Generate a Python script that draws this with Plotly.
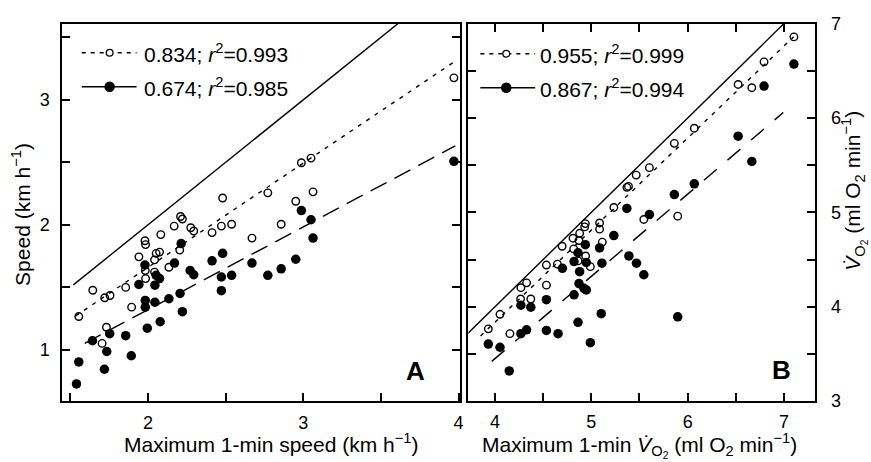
import plotly.graph_objects as go

# ---------------- data: panel A (speed, km/h) ----------------
a_open_x = [1.555, 1.645, 1.722, 1.756, 1.733, 1.705, 1.857, 1.895, 1.942, 1.981, 1.985, 1.983, 1.985,
            2.043, 2.053, 2.075, 2.083, 2.043, 2.135, 2.169, 2.210, 2.222, 2.205, 2.276, 2.295, 2.413,
            2.481, 2.473, 2.539, 2.670, 2.772, 2.858, 2.952, 2.988, 3.050, 3.063, 3.970]
a_open_y = [1.267, 1.477, 1.417, 1.435, 1.181, 1.052, 1.500, 1.342, 1.744, 1.873, 1.842, 1.635, 1.570,
            1.720, 1.772, 1.782, 1.922, 1.622, 1.661, 1.990, 2.067, 2.047, 1.798, 1.977, 1.951, 1.938,
            2.215, 1.990, 2.005, 1.894, 2.256, 2.005, 2.189, 2.497, 2.534, 2.264, 3.176]
a_fill_x = [1.540, 1.555, 1.643, 1.754, 1.735, 1.720, 1.857, 1.893, 1.942, 1.981, 1.983, 1.983, 1.996,
            2.045, 2.053, 2.075, 2.045, 2.079, 2.135, 2.171, 2.207, 2.214, 2.222, 2.272, 2.295, 2.413,
            2.481, 2.473, 2.473, 2.539, 2.670, 2.772, 2.858, 2.952, 2.988, 3.050, 3.063, 3.970]
a_fill_y = [0.728, 0.904, 1.073, 1.130, 0.987, 0.845, 1.114, 0.953, 1.523, 1.679, 1.396, 1.342, 1.174,
            1.518, 1.596, 1.570, 1.381, 1.225, 1.409, 1.694, 1.451, 1.850, 1.306, 1.635, 1.601, 1.712,
            1.772, 1.583, 1.474, 1.596, 1.694, 1.596, 1.648, 1.725, 2.114, 2.041, 1.894, 2.508]
a_fit_open_x = [1.535, 3.99]
a_fit_open_y = [1.272, 3.319]
a_fit_fill_x = [1.593, 3.979]
a_fit_fill_y = [1.052, 2.632]
a_identity = [1.52, 3.7]
a_legend = ["0.834; <i>r</i><sup>2</sup>=0.993", "0.674; <i>r</i><sup>2</sup>=0.985"]

# ---------------- data: panel B (VO2, ml O2/min) ----------------
b_open_x = [3.931, 4.052, 4.155, 4.269, 4.328, 4.266, 4.372, 4.534, 4.534, 4.648, 4.697, 4.810, 4.817,
            4.872, 4.879, 4.931, 4.938, 4.941, 4.862, 4.990, 5.086, 5.086, 5.114, 5.234, 5.369, 5.386,
            5.466, 5.603, 5.545, 5.862, 5.897, 6.069, 6.524, 6.666, 6.793, 7.103]
b_open_y = [3.766, 3.920, 3.715, 4.202, 4.253, 4.082, 4.082, 4.442, 4.229, 4.452, 4.641, 4.726, 4.613,
            4.702, 4.778, 4.846, 4.881, 4.538, 4.486, 4.425, 4.888, 4.822, 4.685, 5.052, 5.265, 5.275,
            5.395, 5.474, 4.925, 5.731, 4.960, 5.892, 6.355, 6.321, 6.595, 6.859]
b_fill_x = [3.931, 4.052, 4.148, 4.269, 4.269, 4.328, 4.372, 4.534, 4.534, 4.655, 4.700, 4.821, 4.821,
            4.862, 4.862, 4.879, 4.872, 4.924, 4.948, 4.938, 4.948, 4.990, 5.086, 5.103, 5.110, 5.234,
            5.369, 5.390, 5.469, 5.545, 5.603, 5.862, 5.897, 6.069, 6.524, 6.666, 6.793, 7.103]
b_fill_y = [3.605, 3.571, 3.320, 3.715, 4.016, 3.756, 3.996, 4.075, 3.749, 3.715, 4.407, 4.126, 4.479,
            4.572, 3.835, 4.372, 4.246, 4.195, 4.178, 4.658, 4.469, 3.619, 4.623, 3.927, 4.462, 4.754,
            5.042, 4.538, 4.462, 4.339, 4.977, 5.189, 3.893, 5.302, 5.807, 5.539, 6.338, 6.571]
b_fit_open_x = [3.85, 7.10]
b_fit_open_y = [3.69, 6.86]
b_fit_fill_x = [3.966, 6.993]
b_fit_fill_y = [3.421, 6.058]
b_identity = [3.6, 7.0]
b_legend = ["0.955; <i>r</i><sup>2</sup>=0.999", "0.867; <i>r</i><sup>2</sup>=0.994"]

# ---------------- axes / ticks ----------------
a_xrange = [1.45, 4.01]
a_yrange = [0.59, 3.61]
a_xticks = [2, 3, 4]
a_xminor = [1.5, 2.5, 3.5]
a_yticks = [1, 2, 3]
a_yminor = [1.5, 2.5, 3.5]
b_xrange = [3.724, 7.327]
b_yrange = [3, 7]
b_xticks = [4, 5, 6, 7]
b_xminor = [4.5, 5.5, 6.5]
b_yticks = [3, 4, 5, 6, 7]
b_yminor = [3.5, 4.5, 5.5, 6.5]

W, H = 871, 462
S_Y = 0.985          # vertical correction for the photographed page
FONT = "Liberation Sans"

def px(x):
    return x / W

def py(y):
    return 1 - (y / S_Y) / H

fig = go.Figure()

open_marker = dict(symbol="circle-open", size=7.5, color="black", line=dict(width=1.4, color="black"))
fill_marker = dict(symbol="circle", size=9.5, color="black")

def add_panel(xa, ya, ident, fox, foy, ffx, ffy, ox, oy, fx, fy, longdash):
    fig.add_trace(go.Scatter(x=ident, y=ident, mode="lines", line=dict(color="black", width=1.4),
                             xaxis=xa, yaxis=ya, showlegend=False))
    fig.add_trace(go.Scatter(x=fox, y=foy, mode="lines",
                             line=dict(color="black", width=1.4, dash="4px,6px"),
                             xaxis=xa, yaxis=ya, showlegend=False))
    fig.add_trace(go.Scatter(x=ffx, y=ffy, mode="lines",
                             line=dict(color="black", width=1.4, dash=longdash),
                             xaxis=xa, yaxis=ya, showlegend=False))
    fig.add_trace(go.Scatter(x=ox, y=oy, mode="markers", marker=open_marker,
                             xaxis=xa, yaxis=ya, showlegend=False))
    fig.add_trace(go.Scatter(x=fx, y=fy, mode="markers", marker=fill_marker,
                             xaxis=xa, yaxis=ya, showlegend=False))

add_panel("x", "y", a_identity, a_fit_open_x, a_fit_open_y, a_fit_fill_x, a_fit_fill_y,
          a_open_x, a_open_y, a_fill_x, a_fill_y, "18px,9px")
add_panel("x2", "y2", b_identity, b_fit_open_x, b_fit_open_y, b_fit_fill_x, b_fit_fill_y,
          b_open_x, b_open_y, b_fill_x, b_fill_y, "17px,14px")

A_DOM_X = [px(62.7), px(461.7)]
B_DOM_X = [px(470), px(818.3)]
DOM_Y = [py(402.7), py(14)]

tickfont = dict(family=FONT, size=18, color="black")

def axis(domain, rng, anchor, ticks, minor, mirror, standoff, **kw):
    return dict(domain=domain, range=rng, anchor=anchor, mirror=mirror,
                showline=True, linecolor="black", linewidth=2,
                ticks="inside", ticklen=8, tickwidth=2, tickcolor="black",
                showgrid=False, zeroline=False, tickfont=tickfont,
                tickmode="array", tickvals=ticks, ticktext=[str(t) for t in ticks],
                ticklabelstandoff=standoff,
                minor=dict(tickmode="array", tickvals=minor, ticks="inside", ticklen=8,
                           tickwidth=2, tickcolor="black", showgrid=False),
                **kw)

fig.update_layout(
    width=W, height=H, autosize=False,
    margin=dict(l=0, r=0, t=0, b=0),
    paper_bgcolor="white", plot_bgcolor="white",
    showlegend=False, hovermode=False,
    xaxis=axis(A_DOM_X, a_xrange, "y", a_xticks, a_xminor, True, 4),
    yaxis=axis(DOM_Y, a_yrange, "x", a_yticks, a_yminor, "ticks", 7),
    xaxis2=axis(B_DOM_X, b_xrange, "y2", b_xticks, b_xminor, "ticks", 3),
    yaxis2=axis(DOM_Y, b_yrange, "x2", b_yticks, b_yminor, "ticks", 10, side="right"),
)

shapes = []
annotations = []

def legend_rows(line_x0, line_x1, mark_x, text_x, rows, texts, dashes):
    for (ry, txt, dash, filled) in zip(rows, texts, dashes, [False, True]):
        shapes.append(dict(type="line", xref="paper", yref="paper",
                           x0=px(line_x0), x1=px(line_x1), y0=py(ry), y1=py(ry),
                           line=dict(color="black", width=1.6 if filled else 1.4, dash=dash)))
        r = 4.6 if filled else 3.4
        shapes.append(dict(type="circle", xref="paper", yref="paper",
                           xsizemode="pixel", ysizemode="pixel",
                           xanchor=px(mark_x), yanchor=py(ry),
                           x0=-r, x1=r, y0=-r, y1=r,
                           fillcolor="black" if filled else "white",
                           line=dict(color="black", width=1.3)))
        annotations.append(dict(x=px(text_x), y=py(ry), xref="paper", yref="paper",
                                xanchor="left", yanchor="middle", showarrow=False, text=txt,
                                font=dict(family=FONT, size=21, color="black")))

legend_rows(82, 137, 110, 142, [44, 79], a_legend, ["4px,5px", "solid"])
legend_rows(482, 537, 508, 540, [45, 80], b_legend, ["4px,5px", "solid"])

title_font = dict(family=FONT, size=21, color="black")

def note(x, y, text, font, angle=0):
    annotations.append(dict(x=px(x), y=py(y), text=text, textangle=angle, xanchor="center",
                            yanchor="middle", showarrow=False, xref="paper", yref="paper",
                            borderpad=0, font=font))

note(271.7, 446, "Maximum 1-min speed (km h<sup>\u22121</sup>)", title_font)
note(21, 210, "Speed (km h<sup>\u22121</sup>)", title_font, -90)
note(642, 448, "Maximum 1-min <i>V\u0307</i><sub>O<sub>2</sub></sub> (ml O<sub>2</sub> min<sup>\u22121</sup>)",
     title_font)
note(857, 186, "<i>V\u0307</i><sub>O<sub>2</sub></sub> (ml O<sub>2</sub> min<sup>\u22121</sup>)", title_font, -90)
note(417, 372, "<b>A</b>", dict(family=FONT, size=26, color="black"))
note(784, 371, "<b>B</b>", dict(family=FONT, size=26, color="black"))

fig.update_layout(shapes=shapes, annotations=annotations)

# the page is exactly the figure: no default body margin, no mode bar
fig.write_html("out.html", config={"displayModeBar": False, "staticPlot": True},
               post_script="document.body.style.margin='0';document.body.style.overflow='hidden';")
